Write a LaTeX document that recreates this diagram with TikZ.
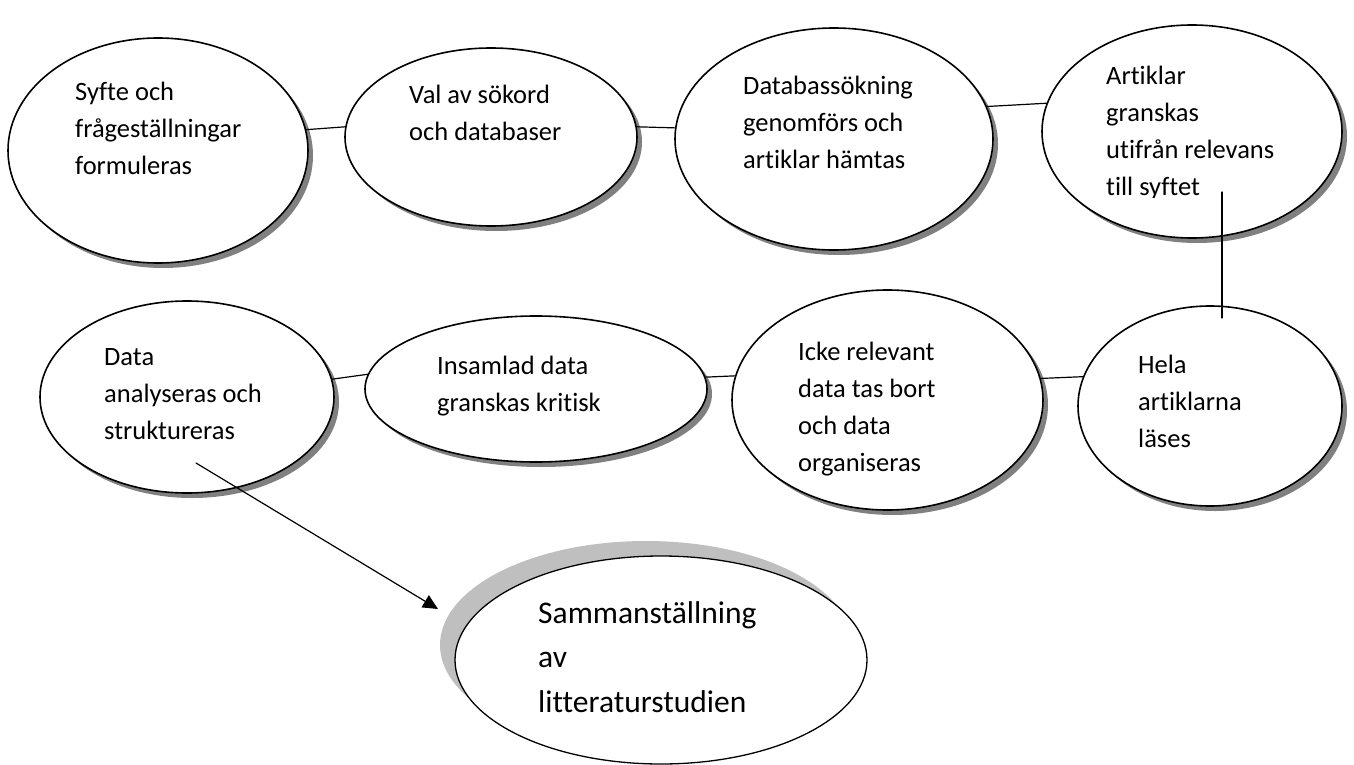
\documentclass[tikz,border=0pt]{standalone}
\usepackage{fontspec}
\setmainfont{Carlito}[Ligatures=NoCommon]
\usetikzlibrary{shapes.geometric,shadows,arrows.meta}
\tikzset{bubble/.style={ellipse,draw=black,fill=white,line width=1.6pt,inner sep=0pt,
  drop shadow={shadow xshift=5pt,shadow yshift=-5pt,fill=black!50,opacity=1}},
 bigbubble/.style={ellipse,draw=black,fill=white,line width=1.3pt,inner sep=0pt,
  drop shadow={shadow xshift=-15pt,shadow yshift=15pt,fill=black!25,opacity=1}},
 txt/.style={align=left,anchor=base west,inner sep=0pt,font=\fontsize{26.5}{37}\selectfont},
 bigtxt/.style={align=left,anchor=base west,inner sep=0pt,font=\fontsize{31.5}{44.5}\selectfont},
 link/.style={draw=black,line width=1.2pt},
 every picture/.style={line join=round,line cap=round}}
\begin{document}
\begin{tikzpicture}[x=1pt,y=-1pt]
\useasboundingbox[fill=white] (0,0) rectangle (1354,765);
% upper row
\node[bubble,minimum width=300,minimum height=225] (syfte) at (158,150.5) {};
\node[bubble,minimum width=292,minimum height=178] (valav) at (491,137) {};
\node[bubble,minimum width=318,minimum height=222] (databas) at (834,139) {};
\node[bubble,minimum width=300,minimum height=213] (granska) at (1192,131.5) {};
% lower row
\node[bubble,minimum width=294,minimum height=192] (analys) at (187,397) {};
\node[bubble,minimum width=342,minimum height=146] (insamlad) at (536,389) {};
\node[bubble,minimum width=311,minimum height=220] (icke) at (887.5,400) {};
\node[bubble,minimum width=264,minimum height=200] (hela) at (1210,406) {};
% result
\node[bigbubble,minimum width=412,minimum height=208] (samman) at (661,660) {};
% texts (anchored at the baseline of the last line)
\node[txt] (syfteTxt) at (75,175) {Syfte och\\frågeställningar\\formuleras};
\node[txt] (valavTxt) at (409,141) {Val av sökord\\och databaser};
\node[txt] (databasTxt) at (743,168) {Databassökning\\genomförs och\\artiklar hämtas};
\begin{scope}
\clip (1040,0) rectangle (1350,197);
\node[txt] (granskaTxt) at (1106,195) {Artiklar\\granskas\\utifrån relevans\\till syftet};
\end{scope}
\node[txt] (analysTxt) at (104,439) {Data\\analyseras och\\struktureras};
\node[txt] (insamladTxt) at (437,411) {Insamlad data\\granskas kritisk};
\node[txt] (ickeTxt) at (798,471) {Icke relevant\\data tas bort\\och data\\organiseras};
\node[txt] (helaTxt) at (1138,447) {Hela\\artiklarna\\läses};
\node[bigtxt] (sammanTxt) at (538,712) {Sammanställning\\av\\litteraturstudien};
% connectors
\coordinate (granskaLow) at (1222,192);
\coordinate (helaHigh) at (1222,318);
\coordinate (analysLow) at (196,463);
\coordinate (sammanTip) at (438,609);
\draw[link] (syfte.8.5) -- (valav.176.5);
\draw[link] (valav.4) -- (databas.176);
\draw[link] (databas.12.3) -- (granska.169);
\draw[link] (granskaLow) -- (helaHigh);
\draw[link] (icke.8.6) -- (hela.167.1);
\draw[link] (insamlad.4.4) -- (icke.171.8);
\draw[link] (analys.7.9) -- (insamlad.175.9);
\draw[link,-{Triangle[length=15pt,width=14pt]}] (analysLow) -- (sammanTip);
\end{tikzpicture}
\end{document}
